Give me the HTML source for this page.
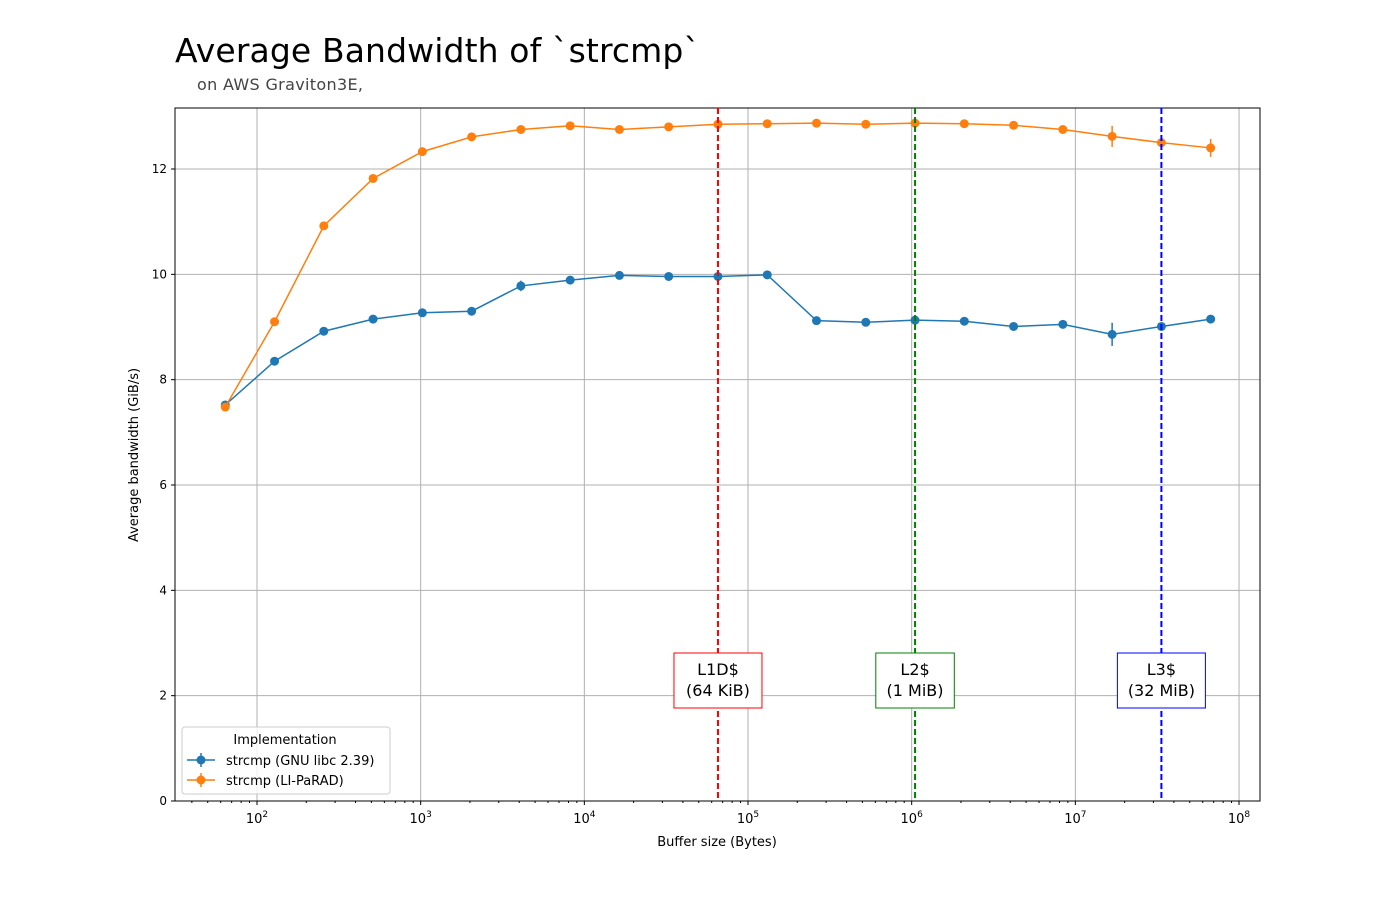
<!DOCTYPE html>
<html><head><meta charset="utf-8"><style>
body{margin:0;background:#fff;width:1400px;height:900px;overflow:hidden;font-family:"Liberation Sans","DejaVu Sans",sans-serif}
svg text{font-family:"DejaVu Sans","Liberation Sans",sans-serif}
</style></head><body>
<svg id="chart" width="1400" height="900" xmlns="http://www.w3.org/2000/svg">
<text x="175" y="62" font-size="33" textLength="525">Average Bandwidth of `strcmp`</text>
<text x="197" y="90" font-size="16" fill="#444" textLength="166">on AWS Graviton3E,</text>
<g id="grid"></g><g id="axes"></g><g id="marks"></g><g id="annot"></g>
</svg>
<script>
const sizes=[64,128,256,512,1024,2048,4096,8192,16384,32768,65536,131072,262144,524288,1048576,2097152,4194304,8388608,16777216,33554432,67108864];
const glibc=[7.52,8.35,8.92,9.15,9.27,9.30,9.78,9.89,9.98,9.96,9.96,9.99,9.12,9.09,9.13,9.11,9.01,9.05,8.86,9.01,9.15];
const glibcErr=[0.03,0.03,0.03,0.03,0.03,0.03,0.1,0.03,0.03,0.03,0.03,0.03,0.03,0.03,0.03,0.03,0.03,0.03,0.22,0.05,0.05];
const lipa=[7.48,9.10,10.92,11.82,12.33,12.61,12.75,12.82,12.75,12.80,12.85,12.86,12.87,12.85,12.87,12.86,12.83,12.75,12.62,12.50,12.40];
const lipaErr=[0.03,0.03,0.03,0.03,0.03,0.03,0.03,0.03,0.03,0.03,0.03,0.03,0.03,0.03,0.03,0.03,0.03,0.05,0.2,0.07,0.17];
const yTicks=[0,2,4,6,8,10,12];
const xDecades=[2,3,4,5,6,7,8];
const caches=[{v:65536,l1:"L1D$",l2:"(64 KiB)",c:"red"},{v:1048576,l1:"L2$",l2:"(1 MiB)",c:"green"},{v:33554432,l1:"L3$",l2:"(32 MiB)",c:"blue"}];
const L=175,R=1260,T=108,B=801;
const X=v=>257+(Math.log10(v)-2)*163.67;
const Y=v=>B-v*(B-169)/12;
const NS="http://www.w3.org/2000/svg";
function mk(tag,at,parent,txt){const e=document.createElementNS(NS,tag);for(const k in at)e.setAttribute(k,at[k]);if(txt!=null)e.textContent=txt;document.getElementById(parent).appendChild(e);return e;}
yTicks.forEach(t=>{
 let g=mk('line',{x1:L,x2:R,y1:Y(t),y2:Y(t),stroke:'#b0b0b0','stroke-width':1},'grid');
 
 
 mk('line',{x1:L-4,x2:L,y1:Y(t),y2:Y(t),stroke:'#000'},'axes');
 let tx=mk('text',{x:L-8,y:Y(t)+4,'font-size':12,'text-anchor':'end'},'axes',String(t));
 
 
});
xDecades.forEach(d=>{
 const x=X(Math.pow(10,d));
 let g=mk('line',{x1:x,x2:x,y1:T,y2:B,stroke:'#b0b0b0'},'grid');
 
 
 mk('line',{x1:x,x2:x,y1:B,y2:B+4,stroke:'#000'},'axes');
 let tx=mk('text',{x:x,y:B+22,'font-size':13,'text-anchor':'middle'},'axes');
 tx.innerHTML='10<tspan dy="-6" font-size="9">'+d+'</tspan>';
 
 
});
for(let d=1;d<=8;d++)for(let m=2;m<=9;m++){const x=X(m*Math.pow(10,d));if(x>L&&x<R)mk('line',{x1:x,x2:x,y1:B,y2:B+2,stroke:'#000'},'axes');}
let fr=mk('rect',{x:L,y:T,width:R-L,height:B-T,fill:'none',stroke:'#000'},'axes');


let xl=mk('text',{x:717,y:846,'font-size':13,'text-anchor':'middle'},'axes','Buffer size (Bytes)');


let yl=mk('text',{x:138,y:455,'font-size':13,'text-anchor':'middle',transform:'rotate(-90 138 455)'},'axes','Average bandwidth (GiB/s)');


function series(vals,errs,col,name){
 let p=mk('polyline',{points:sizes.map((s,i)=>X(s)+','+Y(vals[i])).join(' '),fill:'none',stroke:col,'stroke-width':1.5},'marks');
 
 
 sizes.forEach((s,i)=>{
  mk('line',{x1:X(s),x2:X(s),y1:Y(vals[i]-errs[i]),y2:Y(vals[i]+errs[i]),stroke:col,'stroke-width':1.5},'marks');
  let c=mk('circle',{cx:X(s),cy:Y(vals[i]),r:4.5,fill:col},'marks');
  
  
 });
}
series(glibc,glibcErr,'#1f77b4','glibc');
series(lipa,lipaErr,'#ff7f0e','liparad');
caches.forEach(c=>{
 const x=X(c.v);
 let l=mk('line',{x1:x,x2:x,y1:T,y2:B,stroke:c.c,'stroke-width':2,'stroke-dasharray':'6,3'},'annot');
 
 
 const w=Math.max(c.l1.length,c.l2.length)*9.5+12;
 let r=mk('rect',{x:x-w/2,y:653,width:w,height:55,fill:'#fff',stroke:c.c},'annot');
 
 
 mk('text',{x:x,y:675,'font-size':16,'text-anchor':'middle'},'annot',c.l1);
 mk('text',{x:x,y:696,'font-size':16,'text-anchor':'middle'},'annot',c.l2);
});
let lg=mk('rect',{x:182,y:727,width:208,height:67,rx:3,fill:'#fff','fill-opacity':0.8,stroke:'#ccc'},'annot');


mk('text',{x:285,y:744,'font-size':13,'text-anchor':'middle'},'annot','Implementation');
[['#1f77b4','strcmp (GNU libc 2.39)',760],['#ff7f0e','strcmp (LI-PaRAD)',780]].forEach(e=>{
 mk('line',{x1:187,x2:215,y1:e[2],y2:e[2],stroke:e[0],'stroke-width':1.5},'annot');
 mk('line',{x1:201,x2:201,y1:e[2]-7,y2:e[2]+7,stroke:e[0],'stroke-width':1.5},'annot');
 mk('circle',{cx:201,cy:e[2],r:4.5,fill:e[0]},'annot');
 let t=mk('text',{x:226,y:e[2]+5,'font-size':13},'annot',e[1]);
 
 
});
</script>
</body></html>
